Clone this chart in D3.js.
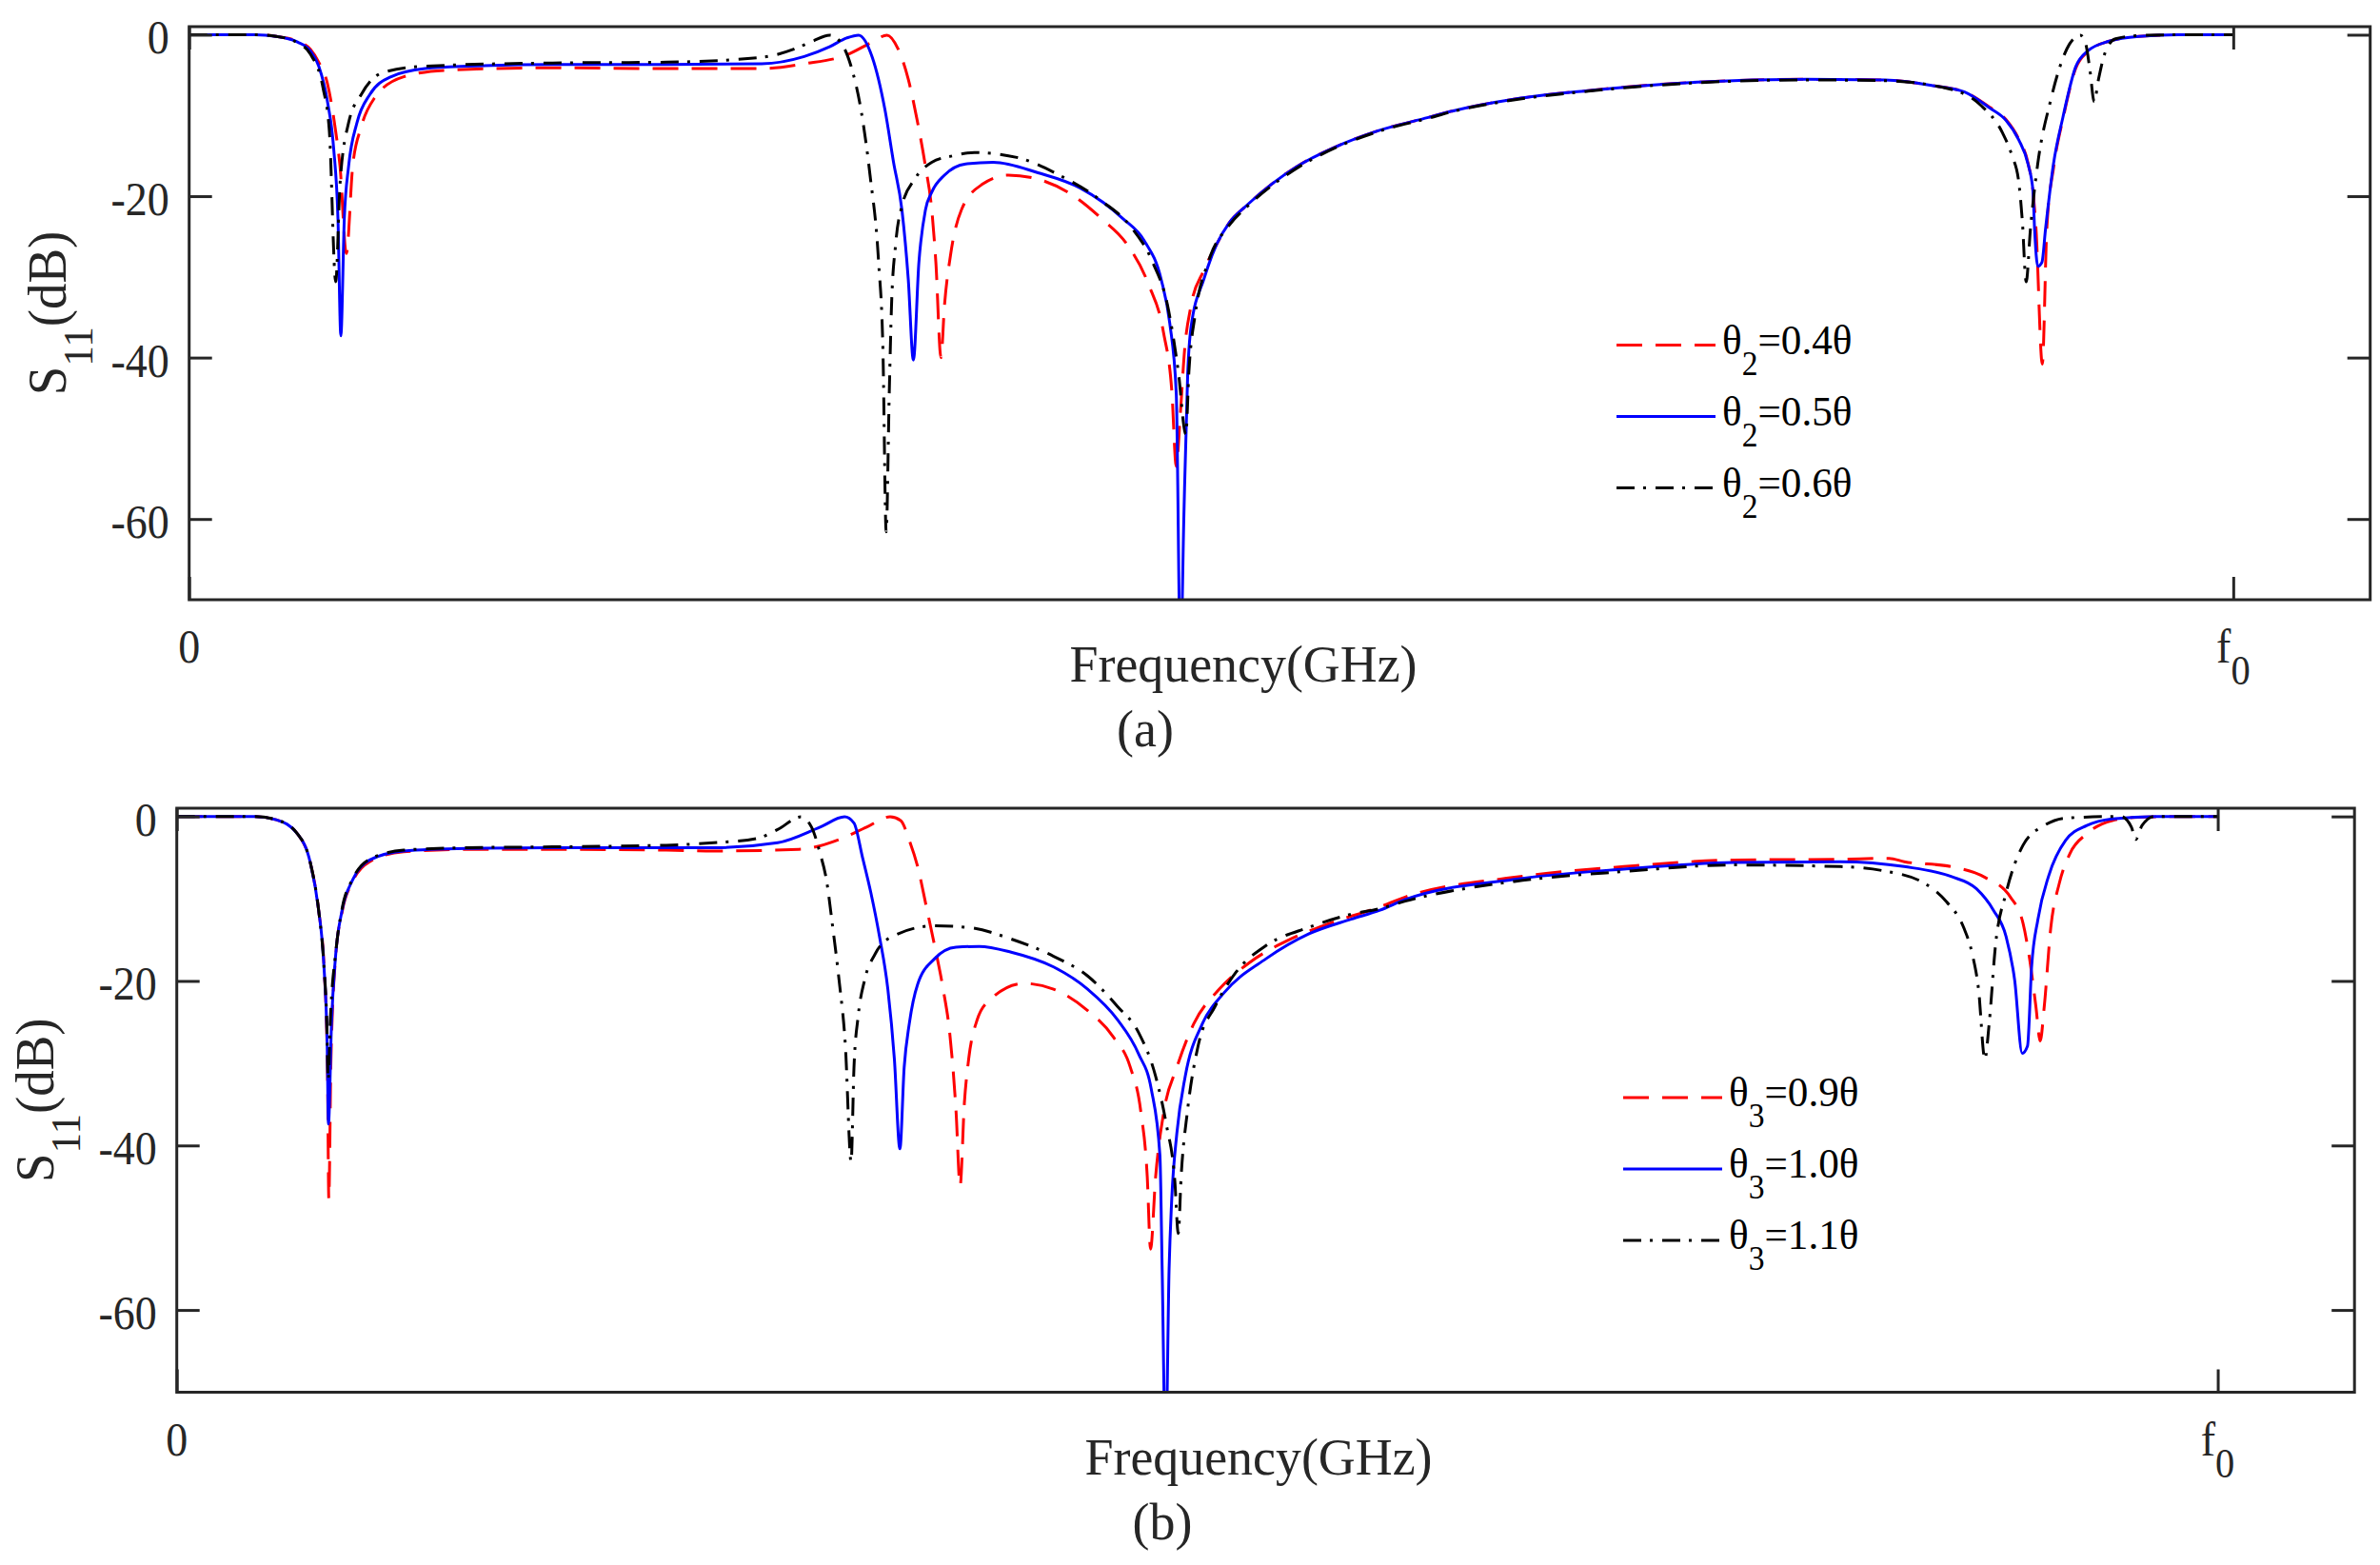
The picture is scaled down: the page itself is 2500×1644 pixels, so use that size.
<!DOCTYPE html>
<html><head><meta charset="utf-8">
<script src="https://cdn.jsdelivr.net/npm/d3@7"></script>
<style>body{margin:0;background:#fff}</style>
</head><body>
<svg id="chart" width="2500" height="1644" xmlns="http://www.w3.org/2000/svg"></svg>
<script>
// ---------------- DATA (normalised frequency f/f0, S11 in dB) ----------------
const X_DOMAIN = [0, 1.067];
const Y_DOMAIN = [-70, 1];
const Y_TICKS = [0, -20, -40, -60];
const Y_TICK_LABELS = ["0", "-20", "-40", "-60"];
const X_TICKS = [0, 1];
const X_TICK_LABELS = [["0", ""], ["f", "0"]];
const X_LABEL = "Frequency(GHz)";
const Y_LABEL = ["S", "11", "(dB)"];
const PANEL_TAGS = ["(a)", "(b)"];
const LEGEND_A = [["θ", "2", "=0.4θ"], ["θ", "2", "=0.5θ"], ["θ", "2", "=0.6θ"]];
const LEGEND_B = [["θ", "3", "=0.9θ"], ["θ", "3", "=1.0θ"], ["θ", "3", "=1.1θ"]];

const A_RED = [[0,0],[0.032,0],[0.0426,-0.2],[0.053,-0.8],[0.0593,-1.8],[0.0634,-3.4],[0.0676,-6.0],[0.0717,-12.0],[0.0738,-16.3],[0.0769,-27.1],[0.08,-16.3],[0.0842,-11.4],[0.0905,-7.9],[0.105,-5.2],[0.1258,-4.4],[0.18,-4.1],[0.2335,-4.2],[0.2801,-4.2],[0.3009,-3.6],[0.3217,-2.5],[0.3342,-0.9],[0.3414,-0.05],[0.3467,-1.7],[0.3518,-5.5],[0.356,-10.4],[0.3602,-16.3],[0.3633,-21.7],[0.3653,-28.2],[0.3678,-40.0],[0.3695,-33.6],[0.3726,-27.1],[0.3778,-21.7],[0.3882,-18.5],[0.4007,-17.4],[0.4153,-17.9],[0.4298,-19.5],[0.4464,-22.8],[0.4589,-26.0],[0.4693,-30.9],[0.4766,-36.8],[0.4808,-44.4],[0.4829,-53.5],[0.4849,-47],[0.487,-39],[0.4901,-33.6],[0.4964,-29.2],[0.5026,-26.0],[0.5088,-23.3],[0.5171,-21.2],[0.5296,-18.5],[0.5421,-16.3],[0.5608,-13.9],[0.5816,-11.9],[0.6062,-10.25],[0.6184,-9.43],[0.6487,-7.96],[0.6844,-6.92],[0.7378,-5.87],[0.7913,-5.53],[0.8297,-5.6],[0.853,-6.3],[0.8686,-7.1],[0.881,-9.0],[0.8888,-10.5],[0.895,-12.9],[0.8997,-16.0],[0.902,-19.3],[0.9035,-24],[0.9066,-40.8],[0.9088,-24],[0.9122,-16.3],[0.9169,-10.2],[0.9229,-4.2],[0.9289,-2.1],[0.9393,-0.8],[0.9538,-0.2],[0.9742,0],[1,0]];
const A_BLUE = [[0,0],[0.032,0],[0.0426,-0.2],[0.053,-0.9],[0.0593,-2.0],[0.0634,-3.9],[0.0676,-8.2],[0.0707,-14.1],[0.0728,-22.8],[0.0742,-37.3],[0.0759,-22.8],[0.078,-16.3],[0.0821,-10.9],[0.0884,-7.4],[0.0988,-5.2],[0.1154,-4.2],[0.1362,-3.9],[0.1778,-3.7],[0.2335,-3.7],[0.2801,-3.6],[0.3009,-2.7],[0.3133,-1.5],[0.3217,-0.4],[0.3275,-0.05],[0.3342,-2.8],[0.3404,-9.3],[0.3446,-15.8],[0.3487,-21.7],[0.3518,-30.3],[0.3543,-40.3],[0.357,-28.2],[0.3602,-21.7],[0.3633,-19.5],[0.3695,-17.4],[0.3799,-16.0],[0.3934,-15.8],[0.4153,-17.1],[0.436,-19.0],[0.4569,-22.8],[0.4672,-25.5],[0.4755,-30.3],[0.4797,-35.7],[0.4829,-44.4],[0.485,-78],[0.4866,-60],[0.4885,-42],[0.4901,-36.3],[0.4964,-30.3],[0.5026,-26.0],[0.5088,-23.3],[0.5171,-21.2],[0.5296,-18.5],[0.5421,-16.3],[0.5608,-13.9],[0.5816,-11.9],[0.6062,-10.25],[0.6184,-9.43],[0.6487,-7.96],[0.6844,-6.92],[0.7378,-5.87],[0.7913,-5.53],[0.8297,-5.6],[0.853,-6.3],[0.8686,-7.1],[0.881,-9.1],[0.8888,-10.6],[0.895,-13.0],[0.8997,-16.1],[0.902,-19.3],[0.9028,-24],[0.9044,-28.7],[0.9064,-28.2],[0.9082,-24],[0.912,-16.1],[0.9167,-10.2],[0.9229,-4.0],[0.9289,-2.0],[0.9393,-0.8],[0.9538,-0.2],[0.9742,0],[1,0]];
const A_BLACK = [[0,0],[0.032,0],[0.0426,-0.2],[0.053,-1.0],[0.0593,-2.4],[0.0655,-6.6],[0.0686,-12.0],[0.0717,-30.6],[0.0738,-18.5],[0.078,-10.9],[0.0842,-7.4],[0.0946,-4.7],[0.1154,-3.9],[0.1778,-3.5],[0.2335,-3.4],[0.2801,-2.8],[0.2968,-1.7],[0.305,-0.8],[0.3133,-0.05],[0.3186,-0.9],[0.3238,-3.9],[0.329,-9.8],[0.3331,-17.4],[0.3373,-28.2],[0.3394,-39],[0.341,-61.6],[0.3425,-44.4],[0.3436,-33.6],[0.3456,-26],[0.3487,-21.2],[0.3549,-17.9],[0.3633,-15.8],[0.3737,-15.0],[0.3841,-14.6],[0.4049,-15.2],[0.4257,-17.4],[0.4464,-20.6],[0.461,-23.9],[0.4714,-28.2],[0.4787,-33.6],[0.4839,-41.7],[0.4876,-49.5],[0.4891,-41.7],[0.4922,-34.6],[0.4985,-28.2],[0.5088,-23.6],[0.5171,-21.4],[0.5296,-18.7],[0.5421,-16.5],[0.5608,-14.0],[0.5816,-12.0],[0.6062,-10.35],[0.6184,-9.5],[0.6487,-8.05],[0.6844,-7.0],[0.7378,-5.95],[0.7913,-5.6],[0.8297,-5.7],[0.8608,-6.7],[0.8763,-8.7],[0.8872,-12.2],[0.8918,-15.0],[0.895,-18.1],[0.8968,-23],[0.8987,-30.6],[0.9008,-24],[0.9043,-16.1],[0.9105,-8.3],[0.9198,-1.2],[0.9252,-0.05],[0.9279,-1.2],[0.9299,-4.4],[0.932,-8.3],[0.9341,-5.5],[0.9372,-2.3],[0.9424,-0.5],[0.954,-0.1],[0.975,0],[1,0]];

const B_RED = [[0,0],[0.0383,0],[0.0487,-0.4],[0.0591,-2.1],[0.0654,-5.6],[0.0695,-11.4],[0.0722,-18.5],[0.0738,-30],[0.0745,-46.5],[0.0755,-30],[0.0779,-16.9],[0.081,-11.6],[0.0862,-7.9],[0.0945,-5.5],[0.1112,-4.3],[0.1424,-4.0],[0.184,-4.0],[0.2398,-4.1],[0.2631,-4.2],[0.3048,-4.0],[0.3256,-2.7],[0.338,-1.3],[0.3495,-0.05],[0.3547,-0.5],[0.3589,-2.9],[0.363,-6.1],[0.3672,-10.9],[0.3713,-15.7],[0.3755,-21.0],[0.3787,-26.3],[0.3818,-35.8],[0.3838,-44.9],[0.3859,-34.8],[0.388,-29.5],[0.3922,-24.7],[0.3984,-22.3],[0.4151,-20.3],[0.4296,-21.0],[0.4463,-23.6],[0.4588,-26.8],[0.4672,-30.5],[0.4723,-35.8],[0.4755,-43.8],[0.4771,-52.6],[0.4796,-43.8],[0.4837,-35.8],[0.49,-30.5],[0.4983,-25.2],[0.5108,-21.0],[0.5254,-17.8],[0.5441,-15.1],[0.5649,-13.0],[0.5895,-11.0],[0.6019,-9.8],[0.6554,-7.4],[0.709,-6.1],[0.7625,-5.3],[0.8151,-5.2],[0.839,-5.1],[0.8464,-5.5],[0.8693,-6.1],[0.8859,-7.4],[0.8984,-9.8],[0.9046,-13.0],[0.9078,-17.3],[0.9109,-23.1],[0.913,-27.3],[0.915,-23.1],[0.9182,-13.5],[0.9223,-8.2],[0.9276,-4.5],[0.9359,-2.1],[0.9483,-0.5],[0.9608,-0.1],[0.98,0],[1,0]];
const B_BLUE = [[0,0],[0.0383,0],[0.0487,-0.4],[0.0591,-2.1],[0.0654,-5.6],[0.0695,-11.4],[0.072,-17.8],[0.0737,-27.9],[0.0743,-37.4],[0.0758,-25.2],[0.0779,-16.7],[0.081,-11.4],[0.0862,-7.7],[0.0945,-5.3],[0.1112,-4.2],[0.1424,-3.9],[0.184,-3.8],[0.2398,-3.8],[0.2631,-3.8],[0.2944,-3.2],[0.3152,-1.3],[0.3272,-0.05],[0.3318,-0.8],[0.336,-5.0],[0.3401,-9.3],[0.3443,-14.6],[0.3484,-21.0],[0.3516,-29.5],[0.3543,-40.4],[0.3564,-30.5],[0.3589,-25.2],[0.363,-20.4],[0.3713,-17.3],[0.3818,-15.9],[0.3932,-15.8],[0.4088,-16.5],[0.4296,-18.3],[0.4463,-21.0],[0.4609,-24.7],[0.4713,-28.9],[0.4775,-33.2],[0.4817,-41.2],[0.4828,-55],[0.4845,-78],[0.4862,-55],[0.4875,-46.5],[0.49,-38.5],[0.4941,-31.6],[0.5025,-25.2],[0.5129,-21.5],[0.5337,-17.3],[0.5545,-14.3],[0.5753,-12.5],[0.5895,-11.4],[0.6019,-10.1],[0.6554,-7.65],[0.709,-6.4],[0.7625,-5.6],[0.8151,-5.5],[0.8464,-6.1],[0.8693,-7.3],[0.8818,-8.8],[0.8901,-11.4],[0.8963,-14.6],[0.9005,-19.9],[0.9042,-28.8],[0.9068,-27.9],[0.9088,-18.3],[0.9119,-12.5],[0.9172,-7.2],[0.9255,-2.9],[0.9359,-1.1],[0.9483,-0.3],[0.97,0],[1,0]];
const B_BLACK = [[0,0],[0.0383,0],[0.0487,-0.4],[0.0591,-2.1],[0.0654,-5.6],[0.0695,-11.4],[0.072,-17.8],[0.0735,-25],[0.0742,-32],[0.0752,-25],[0.0779,-16.5],[0.081,-11.2],[0.0862,-7.6],[0.0945,-5.2],[0.1112,-4.1],[0.1424,-3.8],[0.184,-3.7],[0.2398,-3.5],[0.2631,-3.2],[0.2839,-2.7],[0.2944,-1.6],[0.3058,-0.05],[0.311,-1.3],[0.3152,-4.5],[0.3183,-7.7],[0.3214,-13.5],[0.3245,-19.9],[0.3276,-27.9],[0.3304,-42.0],[0.3318,-30.5],[0.3339,-24.2],[0.337,-19.9],[0.3422,-16.7],[0.3505,-14.6],[0.3713,-13.3],[0.388,-13.5],[0.4088,-14.9],[0.4296,-17.0],[0.4463,-19.4],[0.4609,-23.1],[0.4713,-26.3],[0.4796,-31.6],[0.4848,-37.4],[0.489,-44.3],[0.4907,-50.7],[0.4921,-43.8],[0.4952,-35.8],[0.5004,-27.9],[0.5087,-23.1],[0.5191,-18.9],[0.5337,-15.7],[0.5545,-13.5],[0.5753,-11.9],[0.5895,-11.2],[0.6019,-10.3],[0.6554,-7.9],[0.709,-6.7],[0.7625,-5.9],[0.8151,-6.1],[0.836,-6.6],[0.8568,-8.2],[0.8672,-10.4],[0.8755,-13.5],[0.8797,-16.7],[0.8828,-21.0],[0.8859,-29.5],[0.888,-25.2],[0.8911,-15.7],[0.8963,-9.3],[0.9046,-3.5],[0.915,-1.1],[0.9255,-0.2],[0.9525,0],[0.9577,-1.3],[0.9598,-2.8],[0.9629,-1.1],[0.9691,0],[1,0]];

// ---------------- STYLE ----------------
const FONT = "'Liberation Serif','Times New Roman',serif";
const AX = "#262626";
const SERIES_STYLE = [
  {color: "#ff0000", dash: "27,14"},
  {color: "#0000ff", dash: null},
  {color: "#000000", dash: "19,9,3,10"}
];

const svg = d3.select("#chart");

function label(parent, x, y, parts, o) {
  const t = parent.append("text")
    .attr("transform", `translate(${x},${y})` + (o.rotate ? ` rotate(${o.rotate})` : "") + ` scale(${o.sx || 1},1)`)
    .attr("text-anchor", o.anchor || "start")
    .attr("font-family", FONT)
    .attr("font-size", o.size)
    .attr("fill", o.fill || AX);
  let off = 0;
  parts.forEach((p, i) => {
    if (!p) return;
    const isSub = i % 2 === 1;
    const target = isSub ? o.subDy : 0;
    const ts = t.append("tspan").text(p);
    if (isSub) ts.attr("font-size", o.subSize);
    if (target !== off) { ts.attr("dy", target - off); off = target; }
  });
  return t;
}

function drawPanel(cfg) {
  const x = d3.scaleLinear().domain(X_DOMAIN).range([cfg.left, cfg.right]);
  const y = d3.scaleLinear().domain(Y_DOMAIN).range([cfg.bottom, cfg.top]);
  const g = svg.append("g");

  g.append("clipPath").attr("id", cfg.id + "clip")
    .append("rect").attr("x", cfg.left).attr("y", cfg.top)
    .attr("width", cfg.right - cfg.left).attr("height", cfg.bottom - cfg.top);

  const line = d3.line().x(d => x(d[0])).y(d => y(d[1])).curve(d3.curveMonotoneX);
  const lg = g.append("g").attr("clip-path", `url(#${cfg.id}clip)`);
  cfg.series.forEach((s, i) => {
    const st = SERIES_STYLE[i];
    lg.append("path").datum(s).attr("d", line)
      .attr("fill", "none").attr("stroke", st.color).attr("stroke-width", 3)
      .attr("stroke-dasharray", st.dash).attr("stroke-linejoin", "round");
  });

  // ticks (inward on all four sides)
  const tk = (axis, tr) => g.append("g").attr("transform", tr).call(axis)
    .call(a => a.select(".domain").remove())
    .call(a => a.selectAll("line").attr("stroke", AX).attr("stroke-width", 3))
    .call(a => a.selectAll("text").remove());
  tk(d3.axisLeft(y).tickValues(Y_TICKS).tickSize(-24), `translate(${cfg.left},0)`);
  tk(d3.axisRight(y).tickValues(Y_TICKS).tickSize(-24), `translate(${cfg.right},0)`);
  tk(d3.axisBottom(x).tickValues(X_TICKS).tickSize(-24), `translate(0,${cfg.bottom})`);
  tk(d3.axisTop(x).tickValues(X_TICKS).tickSize(-24), `translate(0,${cfg.top})`);

  g.append("rect").attr("x", cfg.left).attr("y", cfg.top)
    .attr("width", cfg.right - cfg.left).attr("height", cfg.bottom - cfg.top)
    .attr("fill", "none").attr("stroke", AX).attr("stroke-width", 3);

  // tick labels
  Y_TICKS.forEach((v, i) => {
    label(g, cfg.left - 21, y(v) + 20, [Y_TICK_LABELS[i]], {size: 50, sx: 0.92, anchor: "end"});
  });
  X_TICKS.forEach((v, i) => {
    label(g, x(v), cfg.bottom + 66, X_TICK_LABELS[i], {size: 50, subSize: 44, subDy: 23, sx: 0.92, anchor: "middle"});
  });

  // axis labels
  label(g, cfg.xlabX, cfg.bottom + 86, [X_LABEL], {size: 55, sx: 0.98, anchor: "middle"});
  label(g, cfg.tagX, cfg.bottom + 154, [cfg.tag], {size: 55, sx: 0.98, anchor: "middle"});
  label(g, cfg.left - 130, (cfg.top + cfg.bottom) / 2, Y_LABEL,
    {size: 56, subSize: 44, subDy: 28, sx: 0.98, anchor: "middle", rotate: -90});

  // legend
  cfg.legend.forEach((parts, i) => {
    const st = SERIES_STYLE[i];
    const ly = cfg.legY + i * 75;
    g.append("line").attr("x1", cfg.legX1).attr("x2", cfg.legX2).attr("y1", ly).attr("y2", ly)
      .attr("stroke", st.color).attr("stroke-width", 3).attr("stroke-dasharray", st.dash);
    label(g, cfg.legX2 + 7, ly + 9, parts, {size: 45, subSize: 35, subDy: 22, sx: 0.96, fill: "#000"});
  });
}

drawPanel({id: "pa", left: 198.7, right: 2489.7, top: 28, bottom: 630,
  series: [A_RED, A_BLUE, A_BLACK], legend: LEGEND_A, tag: PANEL_TAGS[0],
  xlabX: 1306, tagX: 1203, legX1: 1698, legX2: 1802, legY: 362.5});
drawPanel({id: "pb", left: 185.7, right: 2473.2, top: 849, bottom: 1462.5,
  series: [B_RED, B_BLUE, B_BLACK], legend: LEGEND_B, tag: PANEL_TAGS[1],
  xlabX: 1322, tagX: 1221, legX1: 1705, legX2: 1809, legY: 1153});
</script>
</body></html>
